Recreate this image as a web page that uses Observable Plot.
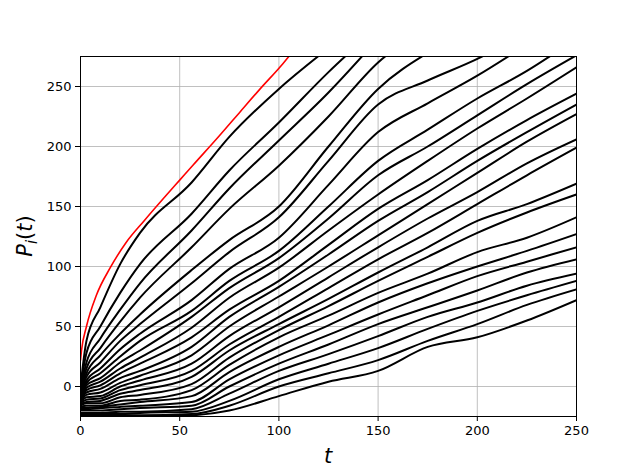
<!DOCTYPE html>
<html>
<head>
<meta charset="utf-8">
<script src="https://cdn.jsdelivr.net/npm/d3@7"></script>
<script src="https://cdn.jsdelivr.net/npm/@observablehq/plot@0.6"></script>
<style>
  html, body { margin: 0; padding: 0; background: white; }
</style>
</head>
<body>
<div id="chart"></div>
<script>
// sample times (t) at which each path was read
const times = [0, 3, 10, 20, 30, 56, 75, 100, 125, 150, 175, 200, 225, 250];

// black paths P_i(t), read at the times above (top path first)
const walks = [
  [0, 38, 66, 102, 128, 170, 208, 248, 282],
  [-1, 28, 50, 78, 102, 144, 180, 220, 262, 300],
  [-2, 20, 40, 64, 86, 130, 165, 205, 245, 290],
  [-3, 15, 32, 54, 74, 116, 148, 184, 225, 270, 300],
  [-4, 11, 26, 44, 60, 97, 122, 150, 200, 248, 278],
  [-5, 8, 20, 38, 52, 86, 112, 141, 188, 235, 255, 273, 295],
  [-6, 5, 15, 31, 44, 72, 98, 124, 168, 212, 236, 259, 285],
  [-7, 3, 11, 25, 38, 63, 88, 113, 150, 188, 214, 240, 263, 290],
  [-8, 1, 7, 20, 30, 58, 82, 107, 140, 176, 200, 226, 252, 276],
  [-9, -1, 4, 15, 24, 49, 74, 99, 130, 160, 188, 215, 240, 266],
  [-10, -3, 1, 11, 19, 41, 64, 88, 118, 148, 172, 198, 222, 244],
  [-11, -5, -2, 7, 13, 33, 58, 83, 110, 138, 162, 188, 212, 235],
  [-12, -7, -5, 3, 9, 26, 50, 75, 100, 126, 152, 178, 204, 227],
  [-13, -9, -8, 0, 5, 19, 42, 66, 91, 116, 140, 162, 186, 206],
  [-14, -11, -10, -3, 1, 13, 35, 58, 82, 106, 128, 152, 176, 199],
  [-15, -13, -12, -6, -3, 8, 30, 52, 73, 95, 116, 138, 152, 169],
  [-16, -14, -14, -9, -7, 2, 24, 47, 67, 88, 108, 128, 145, 160],
  [-17, -16, -16, -12, -11, -3, 18, 41, 59, 78, 94, 112, 124, 141],
  [-18, -18, -17, -15, -13, -8, 12, 33, 51, 70, 86, 100, 113, 127],
  [-19, -19, -18, -17, -16, -13, 6, 26, 43, 60, 76, 92, 104, 116],
  [-20, -20, -20, -19, -18, -16, 0, 19, 35, 52, 66, 80, 95, 106],
  [-22, -22, -22, -21, -21, -19, -6, 13, 27, 42, 58, 70, 84, 94],
  [-23, -23, -23, -23, -22, -21, -12, 6, 19, 32, 48, 63, 76, 88],
  [-24, -24, -24, -24, -24, -23, -16, 0, 11, 22, 38, 52, 68, 81],
  [-25, -25, -25, -25, -25, -24, -20, -8, 4, 13, 33, 41, 55, 72]
];

// red envelope curve
const redT = [0, 0.5, 3, 8, 15, 23, 32, 43, 50, 57, 70, 80, 90, 102, 106];
const redY = [22, 30, 50, 76, 99, 120, 138, 159, 172, 185, 209, 228, 247, 269, 277];

// tick values
const xTicks = [0, 50, 100, 150, 200, 250];
const yTicks = [0, 50, 100, 150, 200, 250];

const rows = walks.flatMap((w, i) => w.map((y, j) => ({id: i, t: times[j], y})));
const red = redT.map((t, i) => ({t, y: redY[i]}));

const chart = Plot.plot({
  width: 640,
  height: 468,
  marginLeft: 80,
  marginRight: 64,
  marginTop: 56,
  marginBottom: 52,
  style: {fontFamily: "DejaVu Sans", fontSize: "13px", background: "white", color: "black", overflow: "visible"},
  x: {domain: [0, 250]},
  y: {domain: [-25, 275]},
  marks: [
    Plot.gridX(xTicks, {stroke: "#b0b0b0", strokeOpacity: 1, strokeWidth: 0.8}),
    Plot.gridY(yTicks, {stroke: "#b0b0b0", strokeOpacity: 1, strokeWidth: 0.8}),
    Plot.line(rows, {x: "t", y: "y", z: "id", stroke: "black", strokeWidth: 2, curve: "monotone-x", clip: true}),
    Plot.line(red, {x: "t", y: "y", stroke: "red", strokeWidth: 1.6, curve: "monotone-x", clip: true}),
    Plot.frame({stroke: "black", strokeWidth: 1}),
    Plot.axisX(xTicks, {tickSize: 5, tickPadding: 4, label: null, fontSize: 13, stroke: "black"}),
    Plot.axisY(yTicks, {tickSize: 5, tickPadding: 4, label: null, fontSize: 13, stroke: "black"})
  ]
});

document.getElementById("chart").appendChild(chart);

const svg = d3.select(chart);
// y label: P_i(t)
const yl = svg.append("text")
  .attr("transform", "translate(32,236) rotate(-90)")
  .attr("text-anchor", "middle")
  .attr("font-family", "DejaVu Sans")
  .attr("font-size", 21)
  .attr("fill", "black");
yl.append("tspan").attr("font-style", "italic").text("P");
yl.append("tspan").attr("font-style", "italic").attr("font-size", 15).attr("dy", 5).text("i");
yl.append("tspan").attr("dy", -5).text("(");
yl.append("tspan").attr("font-style", "italic").text("t");
yl.append("tspan").text(")");
// x label: t
svg.append("text")
  .attr("x", 328)
  .attr("y", 463)
  .attr("text-anchor", "middle")
  .attr("font-family", "DejaVu Sans")
  .attr("font-size", 21)
  .attr("font-style", "italic")
  .attr("fill", "black")
  .text("t");
</script>
</body>
</html>
